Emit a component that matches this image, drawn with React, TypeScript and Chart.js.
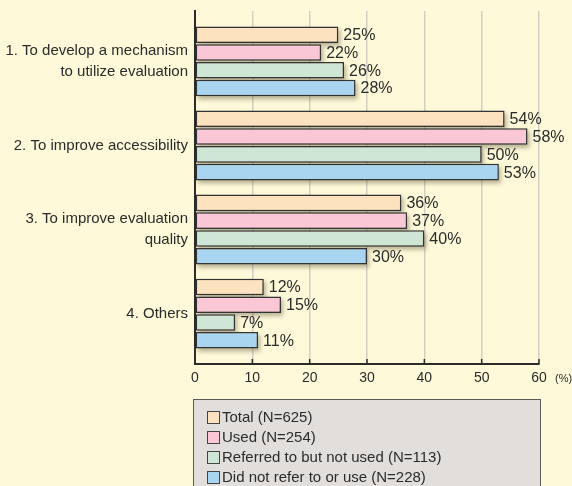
import { useEffect, useRef } from 'react';
import { Chart, registerables } from 'chart.js';

Chart.register(...registerables);

// Survey answers: what should be done about evaluation results
const categories: string[][] = [
  ['1. To develop a mechanism', 'to utilize evaluation'],
  ['2. To improve accessibility'],
  ['3. To improve evaluation', 'quality'],
  ['4. Others'],
];
const seriesNames = [
  'Total (N=625)',
  'Used (N=254)',
  'Referred to but not used (N=113)',
  'Did not refer to or use (N=228)',
];
const totalValues = [25, 54, 36, 12];
const usedValues = [22, 58, 37, 15];
const referredValues = [26, 50, 40, 7];
const notReferredValues = [28, 53, 30, 11];
const xTicks = [0, 10, 20, 30, 40, 50, 60];

const seriesValues = [totalValues, usedValues, referredValues, notReferredValues];
const fills = ['#fde2c0', '#f9c7d5', '#cfe6d6', '#a9d5f1'];

const BG = '#fdf9d9';
const INK = '#2b2b2b';
const SANS = '"Liberation Sans", Arial, sans-serif';

export default function App() {
  const canvasRef = useRef<HTMLCanvasElement | null>(null);

  useEffect(() => {
    const canvas = canvasRef.current;
    if (!canvas) return;

    const background = {
      id: 'background',
      beforeDraw(chart: any) {
        const { ctx, width, height } = chart;
        ctx.save();
        ctx.fillStyle = BG;
        ctx.fillRect(0, 0, width, height);
        ctx.restore();
      },
    };

    // soft drop shadow behind every bar
    const barShadow = {
      id: 'barShadow',
      beforeDatasetsDraw(chart: any) {
        const { ctx } = chart;
        ctx.save();
        ctx.filter = 'blur(2px)';
        ctx.fillStyle = 'rgba(60, 50, 20, 0.35)';
        chart.data.datasets.forEach((_: any, di: number) => {
          const meta = chart.getDatasetMeta(di);
          meta.data.forEach((el: any) => {
            const { x, y, base, height } = el.getProps(['x', 'y', 'base', 'height'], true);
            ctx.fillRect(base + 2, y - height / 2 + 3, x - base, height);
          });
        });
        ctx.restore();
      },
    };

    const valueLabels = {
      id: 'valueLabels',
      afterDatasetsDraw(chart: any) {
        const { ctx } = chart;
        ctx.save();
        ctx.font = `16px ${SANS}`;
        ctx.fillStyle = INK;
        ctx.textAlign = 'left';
        ctx.textBaseline = 'middle';
        chart.data.datasets.forEach((ds: any, di: number) => {
          const meta = chart.getDatasetMeta(di);
          meta.data.forEach((el: any, i: number) => {
            const { x, y } = el.getProps(['x', 'y'], true);
            ctx.fillText(`${ds.data[i].x}%`, x + 5, y + 1);
          });
        });
        ctx.restore();
      },
    };

    const decorations = {
      id: 'decorations',
      afterDraw(chart: any) {
        const { ctx, chartArea } = chart;
        const xScale = chart.scales.x;
        ctx.save();
        // inward tick marks on the value axis
        ctx.strokeStyle = INK;
        ctx.lineWidth = 1.5;
        xTicks.forEach((v) => {
          if (v === 0) return;
          const px = xScale.getPixelForValue(v);
          ctx.beginPath();
          ctx.moveTo(px, chartArea.bottom);
          ctx.lineTo(px, chartArea.bottom - 5);
          ctx.stroke();
        });
        // unit label
        ctx.font = `11px ${SANS}`;
        ctx.fillStyle = INK;
        ctx.textAlign = 'left';
        ctx.textBaseline = 'middle';
        ctx.fillText('(%)', chartArea.right + 16, chartArea.bottom + 15);

        // legend box
        const left = chartArea.left - 2;
        const top = chartArea.bottom + 35;
        const right = chartArea.right + 1;
        ctx.fillStyle = '#e2dedb';
        ctx.fillRect(left, top, right - left, chart.height - top + 10);
        ctx.strokeStyle = '#5a5a5a';
        ctx.lineWidth = 1;
        ctx.strokeRect(left + 0.5, top + 0.5, right - left, chart.height - top + 10);
        ctx.font = `15px ${SANS}`;
        chart.data.datasets.forEach((ds: any, i: number) => {
          const cy = top + 18 + i * 20;
          ctx.fillStyle = ds.backgroundColor;
          ctx.fillRect(left + 14, cy - 6, 13, 13);
          ctx.strokeStyle = '#444';
          ctx.strokeRect(left + 14.5, cy - 5.5, 12, 12);
          ctx.fillStyle = INK;
          ctx.fillText(ds.label, left + 29, cy + 1);
        });
        ctx.restore();
      },
    };

    const chart = new Chart(canvas, {
      type: 'bar',
      data: {
        datasets: seriesValues.map((vals, si) => ({
          label: seriesNames[si],
          data: vals.map((v, i) => ({ x: v, y: i })),
          backgroundColor: fills[si],
          borderColor: '#333333',
          borderWidth: 1.5,
          borderSkipped: false,
          categoryPercentage: 0.846,
          barPercentage: 0.93,
        })),
      },
      options: {
        indexAxis: 'y',
        animation: false,
        responsive: false,
        events: [],
        layout: { padding: { top: 11, right: 33, bottom: 92, left: 0 } },
        plugins: {
          legend: { display: false },
          tooltip: { enabled: false },
        },
        scales: {
          x: {
            type: 'linear',
            position: 'bottom',
            min: 0,
            max: 60,
            afterBuildTicks: (s: any) => {
              s.ticks = xTicks.map((v) => ({ value: v }));
            },
            afterFit: (s: any) => {
              s.height = 30;
            },
            grid: { color: '#d3cfc2', lineWidth: 1.5, drawTicks: false },
            border: { color: INK, width: 2 },
            ticks: { padding: 6, color: INK, font: { family: SANS, size: 14 } },
          },
          y: {
            type: 'linear',
            min: -0.6,
            max: 3.6,
            reverse: true,
            offset: false,
            afterBuildTicks: (s: any) => {
              s.ticks = categories.map((_, i) => ({ value: i }));
            },
            afterFit: (s: any) => {
              s.width = 195;
              s.paddingTop = 0;
              s.paddingBottom = 0;
            },
            grid: { drawOnChartArea: false, drawTicks: false, offset: false },
            border: { color: INK, width: 2 },
            ticks: {
              padding: 7,
              color: INK,
              font: { family: SANS, size: 15, lineHeight: 21 / 15 },
              callback: (v: any) => categories[v as number],
            },
          },
        },
      },
      plugins: [background, barShadow, valueLabels, decorations],
    } as any);

    return () => chart.destroy();
  }, []);

  return (
    <div style={{ position: 'fixed', left: 0, top: 0, width: 572, height: 486, background: BG }}>
      <canvas ref={canvasRef} width={572} height={486} />
    </div>
  );
}
